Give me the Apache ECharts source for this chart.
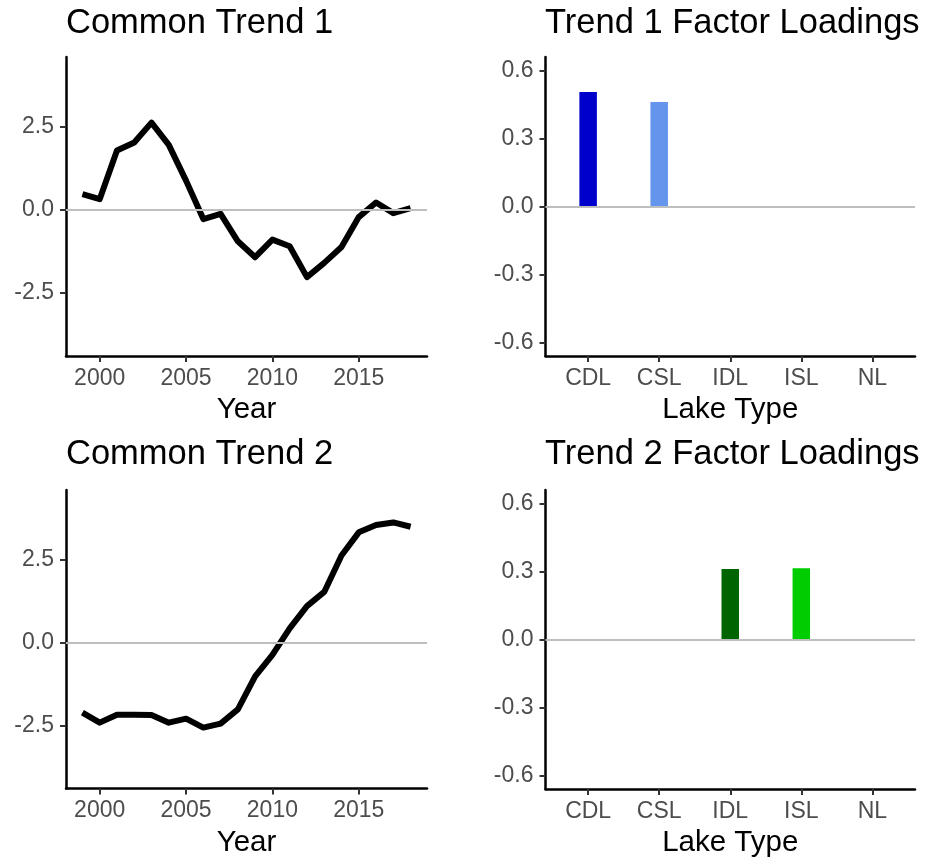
<!DOCTYPE html>
<html><head><meta charset="utf-8">
<script src="https://cdn.jsdelivr.net/npm/echarts@6/dist/echarts.min.js"></script>
<style>html,body{margin:0;padding:0;background:#fff}#c{width:935px;height:862px}</style>
</head><body><div id="c"></div>
<script>
// ---- data ----
const years = [1999,2000,2001,2002,2003,2004,2005,2006,2007,2008,2009,2010,2011,2012,2013,2014,2015,2016,2017,2018];
const trend1 = [0.47,0.32,1.79,2.03,2.63,1.96,0.88,-0.28,-0.12,-0.95,-1.43,-0.90,-1.10,-2.03,-1.60,-1.12,-0.22,0.22,-0.10,0.05];
const trend2 = [-2.12,-2.42,-2.18,-2.18,-2.19,-2.42,-2.30,-2.57,-2.45,-2.02,-1.02,-0.37,0.43,1.10,1.53,2.63,3.33,3.55,3.63,3.50];
const lakeTypes = ['CDL','CSL','IDL','ISL','NL'];
const loadings1 = [0.505,0.461,0,0,0];
const loadings2 = [0,0,0.311,0.315,0];
const lakeColors = ['#0000CD','#6495ED','#006400','#00CD00','#888888'];
const yearTicks = [2000,2005,2010,2015];
const trendTicks = [-2.5,0,2.5];
const loadingTicks = [-0.6,-0.3,0,0.3,0.6];
const lakeTicks = [0,1,2,3,4];
const titles = ['Common Trend 1','Trend 1 Factor Loadings','Common Trend 2','Trend 2 Factor Loadings'];

// ---- chart ----
const FONT = 'Liberation Sans, Arial, sans-serif';
const chart = echarts.init(document.getElementById('c'), null, {renderer:'canvas'});

const grids = [
  {left:66, top:57, width:361, height:299},
  {left:545.5, top:57, width:369.5, height:299},
  {left:66, top:490, width:361, height:298.5},
  {left:545.5, top:490, width:369.5, height:299}
];

function axisCommon(){
  return {
    axisLine:{show:true, onZero:false, lineStyle:{color:'#000', width:2.5}},
    axisTick:{show:true, length:6, lineStyle:{color:'#333', width:2}},
    axisLabel:{fontSize:23, color:'#4D4D4D', fontFamily:FONT, margin:11},
    splitLine:{show:false}
  };
}
function xYear(gi){
  const a = axisCommon();
  a.axisTick.customValues = yearTicks;
  a.axisLabel.customValues = yearTicks;
  a.axisLabel.formatter = v => String(v);
  return Object.assign(a, {type:'value', gridIndex:gi, min:1998.05, max:2018.95,
    name:'Year', nameLocation:'middle', nameGap:39,
    nameTextStyle:{fontSize:29.5, color:'#000', fontFamily:FONT}});
}
function xLake(gi){
  const a = axisCommon();
  a.axisTick.customValues = lakeTicks;
  a.axisLabel.customValues = lakeTicks;
  a.axisLabel.formatter = v => lakeTypes[Math.round(v)];
  return Object.assign(a, {type:'value', gridIndex:gi, min:-0.6, max:4.6,
    name:'Lake Type', nameLocation:'middle', nameGap:39,
    nameTextStyle:{fontSize:29.5, color:'#000', fontFamily:FONT}});
}
function yTrend(gi){
  const a = axisCommon();
  a.axisLabel.margin = 12;
  a.axisTick.customValues = trendTicks;
  a.axisLabel.customValues = trendTicks;
  a.axisLabel.formatter = v => v.toFixed(1);
  return Object.assign(a, {type:'value', gridIndex:gi, min:-4.41, max:4.61});
}
function yLoad(gi){
  const a = axisCommon();
  a.axisLabel.margin = 12;
  a.axisTick.customValues = loadingTicks;
  a.axisLabel.customValues = loadingTicks;
  a.axisLabel.formatter = v => v.toFixed(1);
  return Object.assign(a, {type:'value', gridIndex:gi, min:-0.66, max:0.66});
}
const zeroLine = {silent:true, symbol:['none','none'], label:{show:false},
  lineStyle:{color:'#BEBEBE', width:2, type:'solid'}, data:[{yAxis:0}]};

function lineSeries(idx, vals){
  return {type:'line', xAxisIndex:idx, yAxisIndex:idx, symbol:'none', animation:false,
    data: years.map((y,i)=>[y, vals[i]]),
    lineStyle:{color:'#000', width:6, join:'round'}, itemStyle:{color:'#000'},
    markLine: zeroLine, z:3};
}
function barSeries(idx, vals){
  return {type:'bar', xAxisIndex:idx, yAxisIndex:idx, barWidth:17.5, animation:false,
    data: vals.map((v,i)=>({value:[i, v], itemStyle:{color:lakeColors[i]}})),
    markLine: zeroLine};
}

const option = {
  backgroundColor:'#fff',
  animation:false,
  textStyle:{fontFamily:FONT},
  title: [
    {text:titles[0], left:66, top:6},
    {text:titles[1], left:545, top:6},
    {text:titles[2], left:66, top:437},
    {text:titles[3], left:545, top:437}
  ].map(t => Object.assign(t, {padding:0, textStyle:{fontSize:34.5, fontWeight:'normal', color:'#000', fontFamily:FONT}})),
  grid: grids,
  xAxis: [xYear(0), xLake(1), xYear(2), xLake(3)],
  yAxis: [yTrend(0), yLoad(1), yTrend(2), yLoad(3)],
  series: [
    lineSeries(0, trend1),
    barSeries(1, loadings1),
    lineSeries(2, trend2),
    barSeries(3, loadings2)
  ]
};
chart.setOption(option);
</script></body></html>
